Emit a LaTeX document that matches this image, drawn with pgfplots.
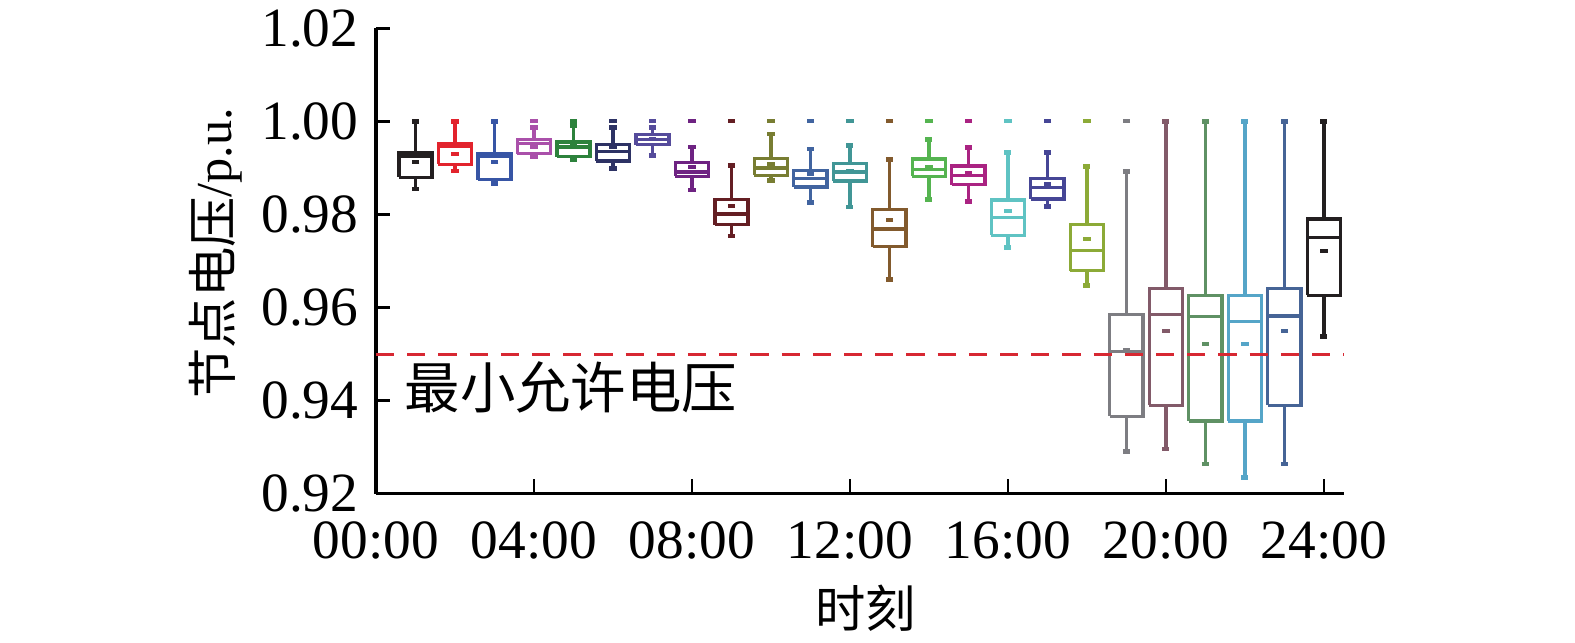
\documentclass[border=0pt]{standalone}
\usepackage{pgfplots}
\pgfplotsset{compat=1.18}
\usepackage{fontspec}
\setmainfont{Liberation Serif}
\newfontfamily\cjk{Noto Sans CJK SC}

\definecolor{c1}{RGB}{35,31,32}
\definecolor{c2}{RGB}{226,35,45}
\definecolor{c3}{RGB}{55,85,165}
\definecolor{c4}{RGB}{170,80,170}
\definecolor{c5}{RGB}{45,130,60}
\definecolor{c6}{RGB}{45,50,100}
\definecolor{c7}{RGB}{85,75,155}
\definecolor{c8}{RGB}{110,35,130}
\definecolor{c9}{RGB}{100,30,35}
\definecolor{c10}{RGB}{120,125,50}
\definecolor{c11}{RGB}{65,100,160}
\definecolor{c12}{RGB}{65,150,150}
\definecolor{c13}{RGB}{130,90,45}
\definecolor{c14}{RGB}{85,180,80}
\definecolor{c15}{RGB}{170,35,130}
\definecolor{c16}{RGB}{95,195,195}
\definecolor{c17}{RGB}{70,70,150}
\definecolor{c18}{RGB}{140,170,55}
\definecolor{c19}{RGB}{125,125,130}
\definecolor{c20}{RGB}{130,90,105}
\definecolor{c21}{RGB}{95,145,100}
\definecolor{c22}{RGB}{85,165,200}
\definecolor{c23}{RGB}{70,100,150}
\definecolor{c24}{RGB}{35,31,32}
\definecolor{limred}{RGB}{215,40,50}

% box at hour #1, colour #2:
% lower whisker #3, lower quartile #4, median #5, upper quartile #6, upper whisker #7, mean #8, extra point #9
\newcommand{\bx}[9]{%
  \pgfmathsetmacro{\xa}{#1-0.42}\pgfmathsetmacro{\xb}{#1+0.42}%
  \pgfmathsetmacro{\wa}{#1-0.09}\pgfmathsetmacro{\wb}{#1+0.09}%
  \edef\boxcmd{\noexpand\addplot[#2, line width=0.65pt, unbounded coords=jump]
    coordinates {(\xa,#4) (\xb,#4) (\xb,#6) (\xa,#6) (\xa,#4) (nan,nan)
      (\xa,#5) (\xb,#5) (nan,nan)
      (#1,#6) (#1,#7) (nan,nan) (#1,#4) (#1,#3)};}%
  \boxcmd
  \edef\capcmd{\noexpand\addplot[#2, line width=0.9pt, unbounded coords=jump]
    coordinates {(\wa,#7) (\wb,#7) (nan,nan) (\wa,#3) (\wb,#3)};}%
  \capcmd
  \addplot[#2, only marks, mark=-, mark size=0.75pt,
    mark options={solid, line width=0.8pt}]
    coordinates {(#1,#8) #9};}

\begin{document}
\begin{tikzpicture}
\useasboundingbox (-2.626,-1.037) rectangle (8.374,3.447);
\begin{axis}[
    scale only axis,
    width=6.758cm, height=3.249cm,
    xmin=0, xmax=24.5, ymin=0.92, ymax=1.02,
    axis lines*=left,
    axis line style={line width=0.65pt, black},
    tick align=inside,
    major tick length=2.8pt,
    tick style={line width=0.55pt, black},
    xtick={0,4,8,12,16,20,24},
    xticklabels={00:00,04:00,08:00,12:00,16:00,20:00,24:00},
    ytick={0.92,0.94,0.96,0.98,1.00,1.02},
    yticklabel style={/pgf/number format/.cd, fixed, fixed zerofill, precision=2},
    /pgf/number format/assume math mode=true,
    ticklabel style={font=\fontsize{11pt}{13pt}\selectfont},
    xticklabel style={yshift=-2pt},
    xlabel={\cjk 时刻},
    ylabel={\cjk 节点电压\rmfamily/p.u.},
    label style={font=\fontsize{11pt}{13pt}\selectfont},
    every axis x label/.style={at={(axis description cs:0.506,-0.246)}, anchor=center},
    every axis y label/.style={at={(axis description cs:-0.166,0.517)}, rotate=90, anchor=center},
    clip=false,
  ]
  \bx{1}{c1}{0.9855}{0.9880}{0.9925}{0.9932}{1.0000}{0.9913}{}
  \bx{2}{c2}{0.9893}{0.9908}{0.9947}{0.9952}{1.0000}{0.9930}{}
  \bx{3}{c3}{0.9866}{0.9875}{0.9925}{0.9931}{1.0000}{0.9912}{}
  \bx{4}{c4}{0.9925}{0.9931}{0.9952}{0.9961}{0.9987}{0.9945}{(4,1.000)}
  \bx{5}{c5}{0.9918}{0.9924}{0.9945}{0.9956}{0.9991}{0.9947}{(5,1.000)}
  \bx{6}{c6}{0.9899}{0.9915}{0.9936}{0.9950}{0.9987}{0.9945}{(6,1.000)}
  \bx{7}{c7}{0.9927}{0.9950}{0.9961}{0.9972}{0.9987}{0.9963}{(7,1.000)}
  \bx{8}{c8}{0.9853}{0.9882}{0.9891}{0.9911}{0.9945}{0.9902}{(8,1.000)}
  \bx{9}{c9}{0.9754}{0.9778}{0.9801}{0.9832}{0.9905}{0.9818}{(9,1.000)}
  \bx{10}{c10}{0.9873}{0.9884}{0.9900}{0.9920}{0.9973}{0.9909}{(10,1.000)}
  \bx{11}{c11}{0.9826}{0.9859}{0.9877}{0.9895}{0.9941}{0.9886}{(11,1.000)}
  \bx{12}{c12}{0.9816}{0.9872}{0.9891}{0.9909}{0.9948}{0.9893}{(12,1.000)}
  \bx{13}{c13}{0.9660}{0.9731}{0.9769}{0.9810}{0.9918}{0.9789}{(13,1.000)}
  \bx{14}{c14}{0.9832}{0.9882}{0.9897}{0.9919}{0.9961}{0.9902}{(14,1.000)}
  \bx{15}{c15}{0.9828}{0.9864}{0.9883}{0.9904}{0.9944}{0.9890}{(15,1.000)}
  \bx{16}{c16}{0.9729}{0.9755}{0.9793}{0.9831}{0.9933}{0.9808}{(16,1.000)}
  \bx{17}{c17}{0.9817}{0.9833}{0.9858}{0.9878}{0.9933}{0.9866}{(17,1.000)}
  \bx{18}{c18}{0.9647}{0.9679}{0.9722}{0.9779}{0.9903}{0.9748}{(18,1.000)}
  \bx{19}{c19}{0.9291}{0.9366}{0.9506}{0.9585}{0.9892}{0.9509}{(19,1.000)}
  \bx{20}{c20}{0.9296}{0.9390}{0.9585}{0.9641}{1.0000}{0.9549}{}
  \bx{21}{c21}{0.9264}{0.9356}{0.9580}{0.9626}{1.0000}{0.9522}{}
  \bx{22}{c22}{0.9235}{0.9356}{0.9570}{0.9626}{1.0000}{0.9522}{}
  \bx{23}{c23}{0.9264}{0.9390}{0.9582}{0.9641}{1.0000}{0.9549}{}
  \bx{24}{c24}{0.9538}{0.9626}{0.9751}{0.9790}{1.0000}{0.9722}{}
  \addplot[limred, line width=0.6pt, dash pattern=on 3.6pt off 2.6pt] coordinates {(0,0.95) (24.5,0.95)};
  \node[anchor=west, inner sep=0pt, font=\cjk\fontsize{11pt}{13pt}\selectfont] at (axis cs:0.7,0.9429) {最小允许电压};
\end{axis}
\end{tikzpicture}
\end{document}
